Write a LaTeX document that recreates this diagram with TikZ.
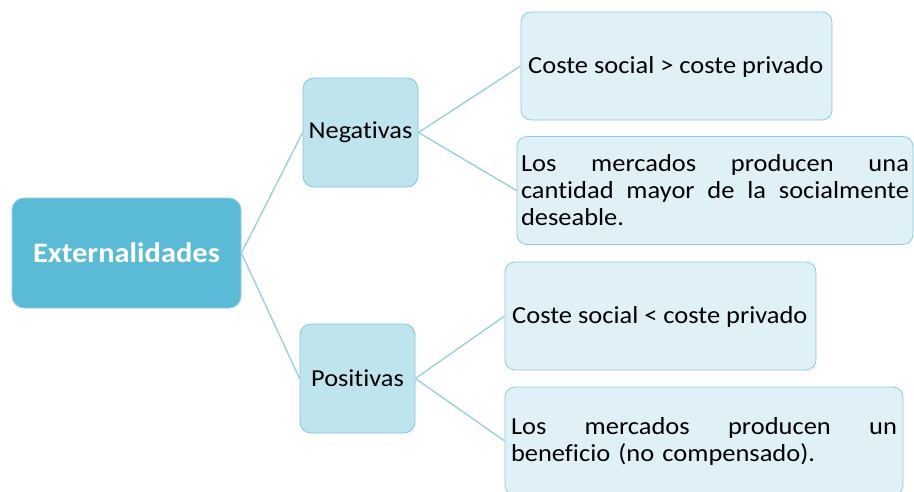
\documentclass[tikz,border=0pt]{standalone}
\usepackage{fontspec}
\setmainfont[FakeStretch=1.08, Ligatures=NoCommon]{Carlito}
\definecolor{mainfill}{HTML}{5BBAD5}
\definecolor{mainline}{HTML}{8FCFE0}
\definecolor{midfill}{HTML}{BEE4EE}
\definecolor{midline}{HTML}{82C6DA}
\definecolor{leaffill}{HTML}{DFF1F7}
\definecolor{leafline}{HTML}{8ECBDE}
\definecolor{conn}{HTML}{9BD0DF}
\begin{document}
\begin{tikzpicture}[x=1pt,y=-1pt,
  mainbox/.style={draw=mainline, fill=mainfill, rounded corners=12pt, line width=0.8pt,
    minimum width=229pt, minimum height=110pt, text=white,
    font=\fontsize{28.2}{33}\selectfont\bfseries, inner sep=0pt},
  midbox/.style={draw=midline, fill=midfill, rounded corners=11pt, line width=0.8pt,
    minimum width=115pt, minimum height=109pt, text=black,
    font=\fontsize{24.4}{29}\selectfont, inner sep=0pt},
  leafbox/.style={draw=leafline, fill=leaffill, rounded corners=10pt, line width=0.8pt,
    minimum height=108pt, text=black, inner sep=0pt,
    font=\fontsize{24.5}{27}\selectfont},
  leaftext/.style={anchor=west, inner sep=0pt, font=\fontsize{24.5}{27}\selectfont},
  conline/.style={draw=conn, line width=1.4pt}]
\useasboundingbox (0,0) rectangle (914,491);
\clip (0,0) rectangle (914,491);
\node[mainbox] (ext) at (126.5,253) {Externalidades};
\node[midbox] (neg) at (360.5,132.5) {Negativas};
\node[midbox] (pos) at (357.5,378.5) {Positivas};
\node[leafbox, minimum width=311pt] (n1) at (676.5,66) {};
\node[leaftext] (n1t) at (528,67) {Coste social > coste privado};
\node[leafbox, minimum width=396pt, text width=388pt, align=left] (n2) at (715,190.5)
  {\makebox[388pt][l]{Los\hfill mercados\hfill producen\hfill una}\\
   \makebox[388pt][l]{cantidad\hfill mayor\hfill de\hfill la\hfill socialmente}\\
   deseable.};
\node[leafbox, minimum width=311pt] (p1) at (660.5,316) {};
\node[leaftext] (p1t) at (512,317) {Coste social < coste privado};
\node[leafbox, minimum width=398pt, text width=386pt, align=left] (p2) at (704,441)
  {\makebox[386pt][l]{Los\hfill mercados\hfill producen\hfill un}\\
   beneficio (no compensado).};
\draw[conline] (ext.east) -- (neg.west);
\draw[conline] (ext.east) -- (pos.west);
\draw[conline] (neg.east) -- (n1.west);
\draw[conline] (neg.east) -- (n2.west);
\draw[conline] (pos.east) -- (p1.west);
\draw[conline] (pos.east) -- (p2.west);
\end{tikzpicture}
\end{document}
